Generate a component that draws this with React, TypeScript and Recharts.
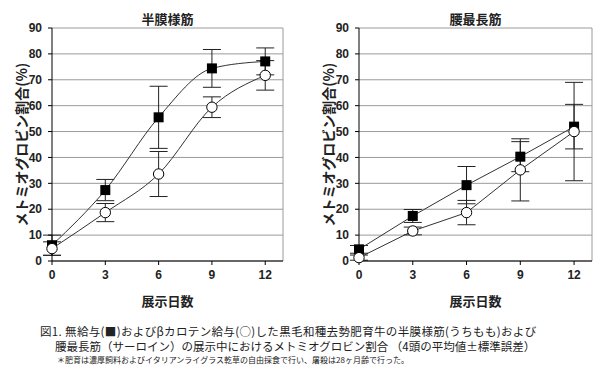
import React from "react";
import {
  CartesianGrid,
  ErrorBar,
  Line,
  LineChart,
  ReferenceLine,
  XAxis,
  YAxis,
} from "recharts";

const days = [0, 3, 6, 9, 12];
const yTicks = [0, 10, 20, 30, 40, 50, 60, 70, 80, 90];

// 半膜様筋
const hanmakuNone = [6.1, 27.4, 55.5, 74.4, 77.1];
const hanmakuNoneErr = [3.9, 4.1, 12.0, 7.3, 5.2];
const hanmakuBeta = [4.8, 18.7, 33.6, 59.4, 71.7];
const hanmakuBetaErr = [2.6, 3.5, 8.7, 4.0, 5.7];

// 腰最長筋
const youNone = [4.5, 17.4, 29.3, 40.3, 51.9];
const youNoneErr = [1.5, 2.5, 7.2, 5.8, 8.6];
const youBeta = [1.3, 11.6, 18.7, 35.2, 50.0];
const youBetaErr = [1.0, 1.5, 4.7, 12.0, 19.0];

const FONT = "'Liberation Sans', Arial, sans-serif";
const JP = "'Noto Sans CJK JP', sans-serif";
const INK = "#222";

const build = (a: number[], ae: number[], b: number[], be: number[]) =>
  days.map((d, i) => ({ day: d, none: a[i], noneErr: ae[i], beta: b[i], betaErr: be[i] }));

const Square = (p: any) => (
  <rect key={`s-${p.index}`} x={p.cx - 5} y={p.cy - 5} width={10} height={10} fill="#000" />
);
const Circle = (p: any) => (
  <circle key={`c-${p.index}`} cx={p.cx} cy={p.cy} r={5.2} fill="#fff" stroke="#000" strokeWidth={1} />
);

function Panel({
  data,
  left,
  yWidth,
  right,
  title,
  curve,
}: {
  data: any[];
  left: number;
  yWidth: number;
  right: number;
  title: string;
  curve: "monotone" | "linear";
}) {
  const w = left === 0 ? 300 : 312;
  return (
    <div style={{ position: "absolute", left, top: 0, width: w, height: 320 }}>
      <div
        style={{
          position: "absolute",
          left: yWidth,
          width: w - yWidth - right,
          top: 9,
          textAlign: "center",
          fontFamily: JP,
          fontSize: 13,
          fontWeight: 700,
          color: INK,
        }}
      >
        {title}
      </div>
      <LineChart
        width={w}
        height={320}
        data={data}
        margin={{ top: 28, right, bottom: 14, left: 0 }}
      >
        <CartesianGrid vertical={false} stroke="#9a9a9a" horizontalValues={yTicks} />
        <ReferenceLine x={13} stroke="#9a9a9a" />
        <XAxis
          dataKey="day"
          type="number"
          domain={[0, 13]}
          ticks={days}
          height={45}
          tickSize={4}
          tickMargin={5}
          stroke="#000"
          tick={{ fill: INK, fontSize: 12, fontWeight: 700, fontFamily: FONT }}
          label={{
            value: "展示日数",
            position: "insideBottom",
            offset: 0,
            style: { fill: INK, fontSize: 13, fontWeight: 700, fontFamily: JP },
          }}
        />
        <YAxis
          type="number"
          domain={[0, 90]}
          ticks={yTicks}
          width={yWidth}
          tickSize={4}
          tickMargin={6}
          stroke="#000"
          interval={0}
          tick={{ fill: INK, fontSize: 12, fontWeight: 700, fontFamily: FONT }}
          label={{
            value: "メトミオグロビン割合(%)",
            angle: -90,
            position: "insideLeft",
            offset: yWidth - 30,
            style: {
              textAnchor: "middle",
              fill: INK,
              fontSize: 14,
              fontWeight: 700,
              fontFamily: JP,
            },
          }}
        />
        <Line
          type={curve}
          dataKey="none"
          stroke="#333"
          strokeWidth={1}
          dot={Square}
          activeDot={false}
          isAnimationActive={false}
        >
          <ErrorBar dataKey="noneErr" direction="y" width={9} stroke="#222" strokeWidth={1} />
        </Line>
        <Line
          type={curve}
          dataKey="beta"
          stroke="#333"
          strokeWidth={1}
          dot={Circle}
          activeDot={false}
          isAnimationActive={false}
        >
          <ErrorBar dataKey="betaErr" direction="y" width={9} stroke="#222" strokeWidth={1} />
        </Line>
      </LineChart>
    </div>
  );
}

export default function App() {
  const leftData = build(hanmakuNone, hanmakuNoneErr, hanmakuBeta, hanmakuBetaErr);
  const rightData = build(youNone, youNoneErr, youBeta, youBetaErr);
  return (
    <div
      style={{
        position: "fixed",
        left: 0,
        top: 0,
        width: 612,
        height: 378,
        background: "#fff",
        overflow: "hidden",
      }}
    >
      <Panel data={leftData} left={0} yWidth={52} right={17} title="半膜様筋" curve="monotone" />
      <Panel data={rightData} left={300} yWidth={59} right={20} title="腰最長筋" curve="linear" />
      <div
        style={{
          position: "absolute",
          left: 40,
          top: 324,
          fontFamily: JP,
          fontSize: 11.5,
          color: INK,
          lineHeight: "15px",
          whiteSpace: "nowrap",
        }}
      >
        <div style={{ letterSpacing: 0.35 }}>
          図1. 無給与(■)およびβカロテン給与(○)した黒毛和種去勢肥育牛の半膜様筋(うちもも)および
        </div>
        <div style={{ paddingLeft: 15 }}>
          腰最長筋（サーロイン）の展示中におけるメトミオグロビン割合 （4頭の平均値±標準誤差）
        </div>
        <div style={{ paddingLeft: 17, fontSize: 8, lineHeight: "12px" }}>
          ＊肥育は濃厚飼料およびイタリアンライグラス乾草の自由採食で行い、屠殺は28ヶ月齢で行った。
        </div>
      </div>
    </div>
  );
}
